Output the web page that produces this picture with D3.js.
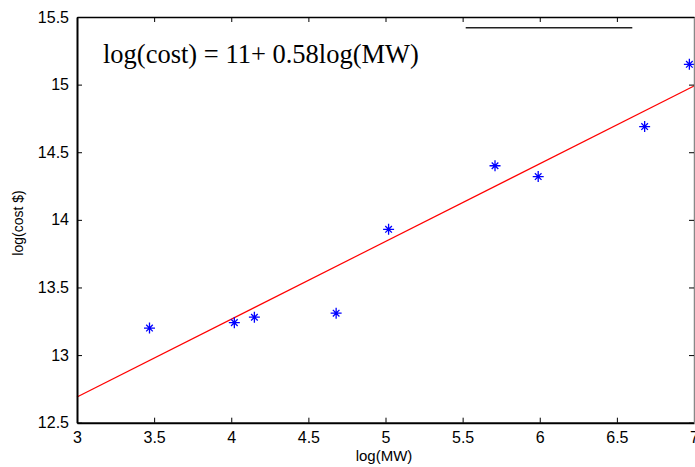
<!DOCTYPE html>
<html>
<head>
<meta charset="utf-8">
<script src="https://cdn.jsdelivr.net/npm/d3@7"></script>
<style>
  html, body { margin: 0; padding: 0; background: #fff; }
  svg { display: block; }
</style>
</head>
<body>
<script>
// Data
const logMW   = [3.47, 4.02, 4.15, 4.68, 5.02, 5.71, 5.99, 6.68, 6.97];
const logCost = [13.20, 13.24, 13.28, 13.31, 13.93, 14.40, 14.32, 14.69, 15.15];
const fitX = [3, 7];
const fitY = [12.69, 14.99];
const xTicks = [3, 3.5, 4, 4.5, 5, 5.5, 6, 6.5, 7];
const yTicks = [12.5, 13, 13.5, 14, 14.5, 15, 15.5];
const equationText = "log(cost) = 11+ 0.58log(MW)";
const xLabel = "log(MW)";
const yLabel = "log(cost $)";

(function () {
const W = 695, H = 467;
const mL = 77, mR = 694, mT = 17, mB = 422.7;

const svg = d3.select("body").append("svg").attr("width", W).attr("height", H);

const x = d3.scaleLinear().domain([3, 7]).range([mL, mR]);
const y = d3.scaleLinear().domain([12.5, 15.5]).range([mB, mT]);

// Fit line
const line = d3.line().x(d => x(d[0])).y(d => y(d[1]));
svg.append("path")
  .datum(fitX.map((v, i) => [v, fitY[i]]))
  .attr("d", line)
  .attr("fill", "none")
  .attr("stroke", "#ff0000")
  .attr("stroke-width", 1.2);

// Star markers
const s = 5.5;
const pts = svg.append("g");
logMW.forEach((v, i) => {
  const g = pts.append("g").attr("transform", `translate(${x(v)},${y(logCost[i])})`);
  const d = `M${-s},0L${s},0M0,${-s}L0,${s}M${-s*0.6},${-s*0.6}L${s*0.6},${s*0.6}M${-s*0.6},${s*0.6}L${s*0.6},${-s*0.6}`;
  g.append("path").attr("d", d).attr("stroke", "#0000ff").attr("stroke-width", 1.3).attr("fill", "none");
});

// Axes
const fontTick = "Liberation Sans, Arial, sans-serif";
const xAxis = d3.axisBottom(x).tickValues(xTicks).tickSizeInner(-5).tickSizeOuter(0).tickPadding(9).tickFormat(d3.format("~g"));
const gx = svg.append("g").attr("transform", `translate(0,${mB})`).call(xAxis);
gx.select(".domain").attr("stroke", "#000").attr("stroke-width", 2);
gx.selectAll(".tick line").attr("stroke", "#000");
gx.selectAll("text").attr("font-family", fontTick).attr("font-size", 16).attr("fill", "#000");

const yAxis = d3.axisLeft(y).tickValues(yTicks).tickSizeInner(-5).tickSizeOuter(0).tickPadding(8).tickFormat(d3.format("~g"));
const gy = svg.append("g").attr("transform", `translate(${mL},0)`).call(yAxis);
gy.select(".domain").attr("stroke", "#000").attr("stroke-width", 2);
gy.selectAll(".tick line").attr("stroke", "#000");
gy.selectAll("text").attr("font-family", fontTick).attr("font-size", 16).attr("fill", "#000");

// Top axis
const gt = svg.append("g").attr("transform", `translate(0,${mT})`)
  .call(d3.axisTop(x).tickValues(xTicks).tickSizeInner(-5).tickSizeOuter(0).tickFormat(""));
gt.select(".domain").attr("stroke", "#000").attr("stroke-width", 1.5);
gt.selectAll(".tick line").attr("stroke", "#000");

// Right axis
const gr = svg.append("g").attr("transform", `translate(${mR},0)`)
  .call(d3.axisRight(y).tickValues(yTicks).tickSizeInner(-5).tickSizeOuter(0).tickFormat(""));
gr.select(".domain").attr("stroke", "#888").attr("stroke-width", 1.5);
gr.selectAll(".tick line").attr("stroke", "#000");

// Legend remnant line
svg.append("line")
  .attr("x1", x(5.52)).attr("x2", x(6.6))
  .attr("y1", 27.7).attr("y2", 27.7)
  .attr("stroke", "#222").attr("stroke-width", 1.5);

// Equation text
svg.append("text")
  .attr("x", 103).attr("y", 63)
  .attr("font-family", "Liberation Serif, Times New Roman, serif")
  .attr("font-size", 26.5)
  .attr("fill", "#000")
  .text(equationText);

// Axis labels
svg.append("text")
  .attr("x", 384).attr("y", 461)
  .attr("text-anchor", "middle")
  .attr("font-family", fontTick)
  .attr("font-size", 15)
  .text(xLabel);

svg.append("text")
  .attr("transform", `translate(23,${223}) rotate(-90)`)
  .attr("text-anchor", "middle")
  .attr("font-family", fontTick)
  .attr("font-size", 14)
  .text(yLabel);
})();
</script>
</body>
</html>
